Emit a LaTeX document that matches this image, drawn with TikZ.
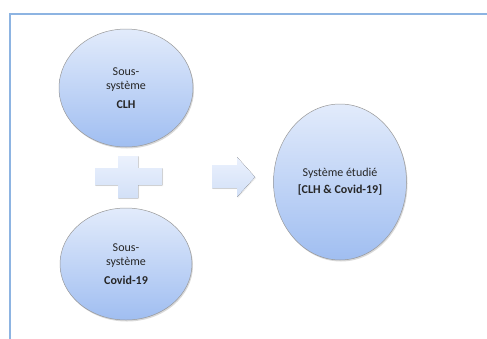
\documentclass[tikz,border=0pt]{standalone}
\usepackage{fontspec}
\setmainfont{Carlito}
\usepackage{tikz}
\usetikzlibrary{shadows,shapes.geometric}
\definecolor{cadre}{RGB}{141,180,226}
\definecolor{bulhaut}{RGB}{226,235,251}
\definecolor{bulbas}{RGB}{160,190,241}
\definecolor{formehaut}{RGB}{235,241,253}
\definecolor{formebas}{RGB}{210,224,247}
\tikzset{
  font={\fontsize{12pt}{14}\selectfont}}

\begin{document}
\begin{tikzpicture}[x=1pt,y=-1pt]
\tikzstyle{bulle}=[ellipse, draw=gray!80, line width=0.5pt, top color=bulhaut,
  bottom color=bulbas, inner sep=0pt, align=center, text=black!85,
  drop shadow={shadow xshift=1pt, shadow yshift=-1.5pt, opacity=0.3}]
\tikzstyle{forme}=[top color=formehaut, bottom color=formebas,
  drop shadow={shadow xshift=1pt, shadow yshift=-1pt, opacity=0.15}]
\useasboundingbox (0,0) rectangle (487,338);
% cadre
\draw [cadre, line width=2pt] (10,339) -- (10,14) -- (488,14);
% sous-systemes
\node [bulle, minimum width=134pt, minimum height=118pt] (clh) at (126,88)
  {Sous-\\système\\[5pt]\textbf{CLH}};
\node [bulle, minimum width=132pt, minimum height=112pt] (covid) at (126,264)
  {Sous-\\système\\[5pt]\textbf{Covid-19}};
% systeme etudie
\node [bulle, minimum width=133pt, minimum height=156pt] (etude) at (340,182)
  {Système étudié\\[3pt]\textbf{[CLH \& Covid-19]}};
% plus
\fill [forme] (95,168) -- (118,168) -- (118,156) -- (138,156) -- (138,168)
  -- (162,168) -- (162,185) -- (138,185) -- (138,198) -- (118,198)
  -- (118,185) -- (95,185) -- cycle;
% fleche
\fill [forme] (212,165) -- (237,165) -- (237,157) -- (255,177) -- (237,197)
  -- (237,188) -- (212,188) -- cycle;
\end{tikzpicture}
\end{document}
